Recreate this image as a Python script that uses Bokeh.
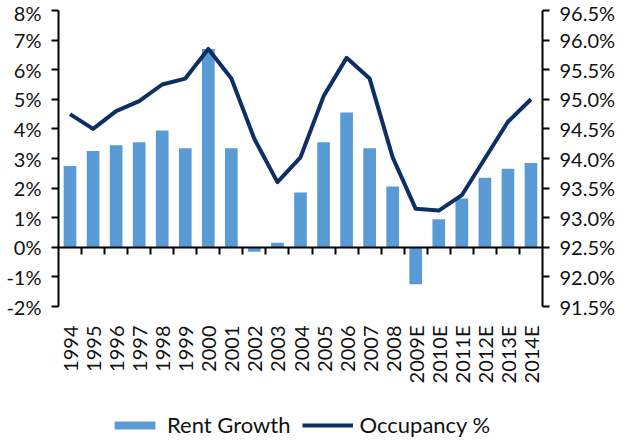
import math
from bokeh.plotting import figure
from bokeh.models import (Range1d, LinearAxis, FixedTicker, PrintfTickFormatter,
                          Legend, LegendItem, ColumnDataSource)
from bokeh.embed import file_html
from bokeh.resources import INLINE

years = ["1994", "1995", "1996", "1997", "1998", "1999", "2000", "2001", "2002",
         "2003", "2004", "2005", "2006", "2007", "2008", "2009E", "2010E", "2011E",
         "2012E", "2013E", "2014E"]
rent_growth = [2.75, 3.25, 3.45, 3.55, 3.95, 3.35, 6.7, 3.35, -0.15, 0.15, 1.85,
               3.55, 4.55, 3.35, 2.05, -1.25, 0.95, 1.65, 2.35, 2.65, 2.85]
occupancy = [94.75, 94.5, 94.8, 94.97, 95.25, 95.35, 95.85, 95.35, 94.33, 93.6, 94.02,
             95.05, 95.7, 95.35, 94.02, 93.15, 93.12, 93.38, 94.0, 94.62, 95.0]
left_ticks = [-2, -1, 0, 1, 2, 3, 4, 5, 6, 7, 8]
right_ticks = [91.5, 92.0, 92.5, 93.0, 93.5, 94.0, 94.5, 95.0, 95.5, 96.0, 96.5]

FONT = "Lato"
FS = "20px"
LEG_FS = "22px"
BAR = "#5b9bd5"
LINE = "#0d2f63"

# layout (pixels)
W, H = 623, 438
LEFT, RIGHT, TOP = 58, 81, 10
AXIS_PX = 296            # pixel height of the tick span on the y axes
extra_px = H - TOP - AXIS_PX   # frame continues below the axes to hold labels/legend

l_lo, l_hi = left_ticks[0], left_ticks[-1]
r_lo, r_hi = right_ticks[0], right_ticks[-1]
l_start = l_lo - extra_px * (l_hi - l_lo) / AXIS_PX
r_start = r_lo - extra_px * (r_hi - r_lo) / AXIS_PX

n = len(years)
xc = [i + 0.5 for i in range(n)]
src = ColumnDataSource(dict(x=xc, rent=rent_growth, occ=occupancy, yr=years))

p = figure(width=W, height=H, output_backend="svg", toolbar_location=None,
           x_range=Range1d(0, n), y_range=Range1d(l_start, l_hi),
           x_axis_location=None, y_axis_location=None,
           min_border_left=LEFT, min_border_right=RIGHT, min_border_top=TOP,
           min_border_bottom=0)
p.extra_y_ranges = {"occ": Range1d(r_start, r_hi)}
p.outline_line_color = None
p.xgrid.visible = False
p.ygrid.visible = False
p.background_fill_color = "white"
p.border_fill_color = "white"

def style(ax):
    ax.axis_line_width = 2
    ax.axis_line_color = "black"
    ax.major_tick_line_width = 2
    ax.major_tick_line_color = "black"
    ax.major_tick_in = 0
    ax.major_tick_out = 7
    ax.minor_tick_line_color = None
    ax.major_label_text_font = FONT
    ax.major_label_text_font_size = FS
    ax.major_label_text_color = "#111111"

la = LinearAxis(ticker=FixedTicker(ticks=left_ticks), formatter=PrintfTickFormatter(format="%d%%"),
                bounds=(l_lo, l_hi))
style(la)
la.major_label_standoff = 10
p.add_layout(la, "left")

ra = LinearAxis(y_range_name="occ", ticker=FixedTicker(ticks=right_ticks),
                formatter=PrintfTickFormatter(format="%.1f%%"), bounds=(r_lo, r_hi))
style(ra)
ra.major_label_standoff = 10
p.add_layout(ra, "right")

# zero line with ticks at category boundaries
za = LinearAxis(ticker=FixedTicker(ticks=list(range(1, n))), fixed_location=0,
                major_label_overrides={i: "" for i in range(1, n)})
style(za)
za.major_label_text_font_size = "0px"
p.add_layout(za, "below")

# category labels under the bottom of the value axes
xa = LinearAxis(ticker=FixedTicker(ticks=xc), fixed_location=l_lo,
                major_label_overrides={x: y for x, y in zip(xc, years)})
style(xa)
xa.axis_line_color = None
xa.major_tick_line_color = None
xa.major_tick_out = 0
xa.major_label_orientation = math.pi / 2
xa.major_label_standoff = 19
p.add_layout(xa, "below")

bars = p.vbar(x="x", top="rent", bottom=0, width=0.55, source=src,
              fill_color=BAR, line_color=None)
ln = p.line(x="x", y="occ", source=src, y_range_name="occ",
            line_color=LINE, line_width=4, line_join="round")

legend = Legend(items=[LegendItem(label="Rent Growth", renderers=[bars]),
                       LegendItem(label="Occupancy %", renderers=[ln])],
                orientation="horizontal", location=(51, 0),
                glyph_width=51, glyph_height=10, label_standoff=7, spacing=11,
                padding=0, margin=0, border_line_color=None,
                background_fill_alpha=0,
                label_text_font=FONT, label_text_font_size=LEG_FS,
                label_text_color="#111111")
p.add_layout(legend, "center")

open("out.html", "w").write(file_html(p, INLINE))
